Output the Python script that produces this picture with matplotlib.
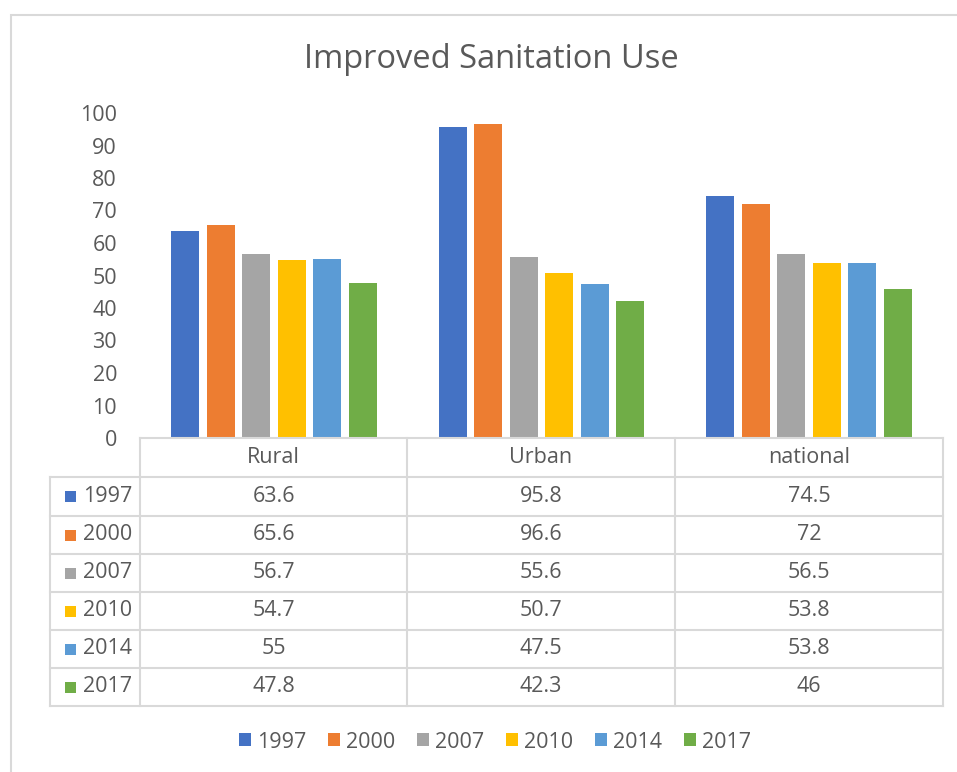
import matplotlib
matplotlib.use("Agg")
import matplotlib.pyplot as plt
from matplotlib.patches import Rectangle
from matplotlib.lines import Line2D

categories = ["Rural", "Urban", "national"]
years = ["1997", "2000", "2007", "2010", "2014", "2017"]
values = {
    "1997": [63.6, 95.8, 74.5],
    "2000": [65.6, 96.6, 72],
    "2007": [56.7, 55.6, 56.5],
    "2010": [54.7, 50.7, 53.8],
    "2014": [55, 47.5, 53.8],
    "2017": [47.8, 42.3, 46],
}
colors = ["#4472C4", "#ED7D31", "#A5A5A5", "#FFC000", "#5B9BD5", "#70AD47"]
yticks = [0, 10, 20, 30, 40, 50, 60, 70, 80, 90, 100]
title = "Improved Sanitation Use"

plt.rcParams['font.family'] = ['Open Sans', 'DejaVu Sans']
TXT = "#595959"
GRID = "#D9D9D9"
FS = 15.5

W, H = 957, 772
fig = plt.figure(figsize=(W / 100, H / 100), dpi=100)

def fx(x):
    return x / W

def fy(y):
    return 1 - y / H

# outer border
fig.add_artist(Rectangle((fx(11), fy(790)), fx(960 - 11), fy(15) - fy(790),
                         transform=fig.transFigure, fill=False,
                         edgecolor=GRID, linewidth=1.5))

# plot axes
x0, x1, y0, y1 = 140, 943, 438, 113
ax = fig.add_axes([fx(x0), fy(y0), fx(x1 - x0), fy(y1) - fy(y0)])
n = len(years)
step = 0.1326
width = 0.105
xs = list(range(len(categories)))
for i, (yr, c) in enumerate(zip(years, colors)):
    off = (i - (n - 1) / 2) * step
    ax.bar([x + off for x in xs], values[yr], width=width, color=c,
           label=yr, zorder=3)
ax.set_xlim(-0.5, len(categories) - 0.5)
ax.set_ylim(0, 100)
ax.set_yticks(yticks)
ax.set_yticklabels([str(t) for t in yticks], fontsize=FS, color=TXT)
ax.tick_params(axis='y', length=0, pad=16.5)
ax.set_xticks([])
for s in ax.spines.values():
    s.set_visible(False)
ax.patch.set_alpha(0)

# title
fig.text(fx(491), fy(60), title, ha='center', va='center', fontsize=23.5,
         color=TXT)

# data table
col_x = [50, 140, 407, 675, 943]
row_y = [438, 477, 516, 554, 592, 630, 668, 706]
lw = 1.5
fig.add_artist(Line2D([fx(140), fx(943)], [fy(438), fy(438)],
                      transform=fig.transFigure, color=GRID, lw=lw))
for yy in row_y[1:]:
    fig.add_artist(Line2D([fx(50), fx(943)], [fy(yy), fy(yy)],
                          transform=fig.transFigure, color=GRID, lw=lw))
fig.add_artist(Line2D([fx(50), fx(50)], [fy(477), fy(706)],
                      transform=fig.transFigure, color=GRID, lw=lw))
for xx in col_x[1:]:
    fig.add_artist(Line2D([fx(xx), fx(xx)], [fy(438), fy(706)],
                          transform=fig.transFigure, color=GRID, lw=lw))

for j, cat in enumerate(categories):
    cx = (col_x[j + 1] + col_x[j + 2]) / 2
    cy = (row_y[0] + row_y[1]) / 2
    fig.text(fx(cx), fy(cy), cat, ha='center', va='center', fontsize=FS,
             color=TXT)

for i, (yr, c) in enumerate(zip(years, colors)):
    cy = (row_y[i + 1] + row_y[i + 2]) / 2
    fig.add_artist(Rectangle((fx(65), fy(cy + 5.5)), fx(11), fy(cy - 5.5) - fy(cy + 5.5),
                             transform=fig.transFigure, facecolor=c,
                             edgecolor='none'))
    fig.text(fx(83), fy(cy), yr, ha='left', va='center', fontsize=FS,
             color=TXT)
    for j in range(len(categories)):
        cx = (col_x[j + 1] + col_x[j + 2]) / 2
        v = values[yr][j]
        fig.text(fx(cx), fy(cy), f"{v:g}", ha='center', va='center',
                 fontsize=FS, color=TXT)

# legend
handles, labels = ax.get_legend_handles_labels()
leg = fig.legend(handles, labels, loc='center', bbox_to_anchor=(fx(495), fy(742)),
                 ncol=6, frameon=False, fontsize=FS, handlelength=0.55,
                 handleheight=0.55, handletextpad=0.3, columnspacing=1.0,
                 labelcolor=TXT)

fig.savefig("out.png", dpi=100)
